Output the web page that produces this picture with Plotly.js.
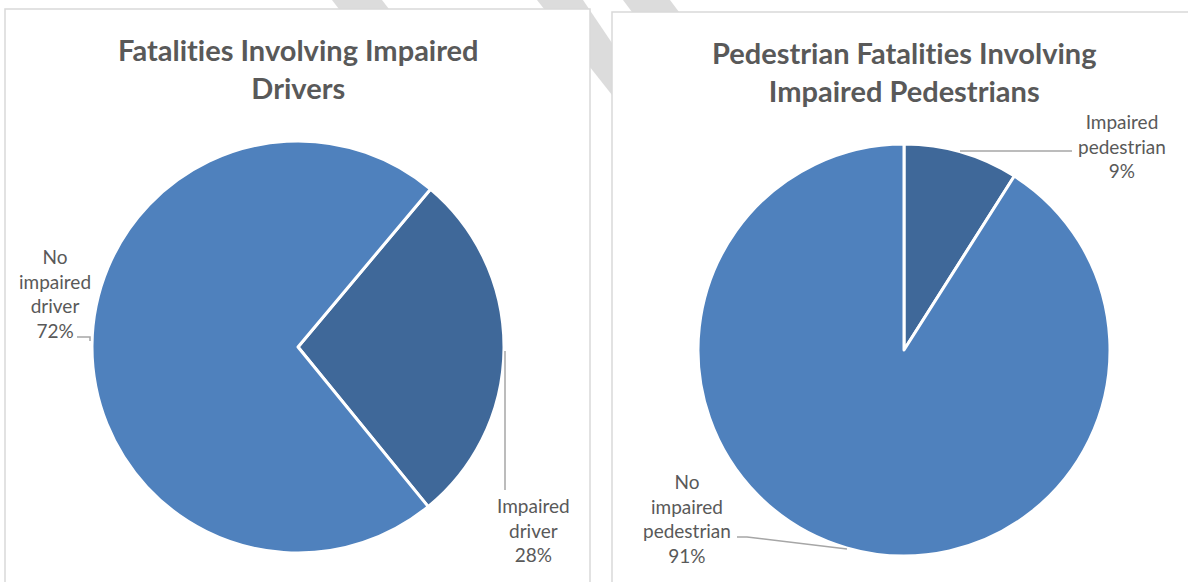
<!DOCTYPE html>
<html>
<head>
<meta charset="utf-8">
<script src="https://cdn.plot.ly/plotly-3.0.1.min.js"></script>
<style>html,body{margin:0;padding:0;background:#fff;}#chart{width:1188px;height:582px;}text{font-variant-ligatures:none;font-feature-settings:"liga" 0;}</style>
</head>
<body>
<div id="chart"></div>
<script>
// ---- data ----
var driverLabels = ["Impaired driver", "No impaired driver"];
var driverValues = [28, 72];
var pedLabels = ["Impaired pedestrian", "No impaired pedestrian"];
var pedValues = [9, 91];
var titleLeft = "Fatalities Involving Impaired<br>Drivers";
var titleRight = "Pedestrian Fatalities Involving<br>Impaired Pedestrians";

// ---- helpers ----
var W = 1188, H = 582;
function px(x) { return x / W; }
function py(y) { return 1 - y / H; }
function pathPx(pts, close) {
  var s = pts.map(function (p, i) { return (i ? "L" : "M") + px(p[0]) + "," + py(p[1]); }).join(" ");
  return close ? s + " Z" : s;
}
function pct(vals, i) {
  var t = vals.reduce(function (a, b) { return a + b; }, 0);
  return Math.round(vals[i] / t * 100) + "%";
}

var lightBlue = "#4F81BD", darkBlue = "#3F6899";
var labelColor = "#595959", lineColor = "#A6A6A6";
var fontFam = "Lato, 'Open Sans', sans-serif";

var traces = [
  {
    type: "pie", labels: driverLabels, values: driverValues, sort: false,
    direction: "clockwise", rotation: 40, textinfo: "none", hoverinfo: "none",
    marker: { colors: [darkBlue, lightBlue], line: { color: "#ffffff", width: 3 } },
    domain: { x: [px(92), px(504)], y: [py(553), py(141)] }, showlegend: false
  },
  {
    type: "pie", labels: pedLabels, values: pedValues, sort: false,
    direction: "clockwise", rotation: 0, textinfo: "none", hoverinfo: "none",
    marker: { colors: [darkBlue, lightBlue], line: { color: "#ffffff", width: 3 } },
    domain: { x: [px(698), px(1110)], y: [py(556), py(144)] }, showlegend: false
  }
];

var stripe = "#DCDCDC";
var shapes = [
  // watermark stripes (behind panels)
  { type: "path", xref: "paper", yref: "paper", layer: "below", line: { width: 0 }, fillcolor: stripe,
    path: pathPx([[332, 0], [382, 0], [405, 30], [355, 30]], true) },
  { type: "path", xref: "paper", yref: "paper", layer: "below", line: { width: 0 }, fillcolor: stripe,
    path: pathPx([[537, 0], [583, 0], [612, 43], [612, 95]], true) },
  { type: "path", xref: "paper", yref: "paper", layer: "below", line: { width: 0 }, fillcolor: stripe,
    path: pathPx([[623, 0], [670, 0], [685, 20], [638, 20]], true) },
  // panels
  { type: "rect", xref: "paper", yref: "paper", layer: "below", fillcolor: "#ffffff",
    line: { color: "#D9D9D9", width: 1.5 }, x0: px(5), x1: px(590), y0: py(590), y1: py(9) },
  { type: "rect", xref: "paper", yref: "paper", layer: "below", fillcolor: "#ffffff",
    line: { color: "#D9D9D9", width: 1.5 }, x0: px(612), x1: px(1195), y0: py(590), y1: py(12) },
  // leader lines
  { type: "path", xref: "paper", yref: "paper", line: { color: lineColor, width: 1.5 },
    path: pathPx([[77, 337], [90, 337], [90, 341]], false) },
  { type: "path", xref: "paper", yref: "paper", line: { color: lineColor, width: 1.5 },
    path: pathPx([[505, 351], [505, 490]], false) },
  { type: "path", xref: "paper", yref: "paper", line: { color: lineColor, width: 1.5 },
    path: pathPx([[960, 151], [1072, 151]], false) },
  { type: "path", xref: "paper", yref: "paper", line: { color: lineColor, width: 1.5 },
    path: pathPx([[737, 537], [747, 537], [847, 549]], false) }
];

function ann(text, x, y, size, bold) {
  return {
    xref: "paper", yref: "paper", x: px(x), y: py(y), xanchor: "center", yanchor: "middle",
    showarrow: false, align: "center", text: bold ? "<b>" + text + "</b>" : text,
    font: { family: fontFam, size: size, color: labelColor }
  };
}

var annotations = [
  ann(titleLeft, 298, 68, 29, true),
  ann(titleRight, 904, 71, 29, true),
  ann("No<br>impaired<br>driver<br>" + pct(driverValues, 1), 55, 293, 19, false),
  ann("Impaired<br>driver<br>" + pct(driverValues, 0), 533, 530, 19, false),
  ann("Impaired<br>pedestrian<br>" + pct(pedValues, 0), 1122, 146, 19, false),
  ann("No<br>impaired<br>pedestrian<br>" + pct(pedValues, 1), 687, 518, 19, false)
];

var layout = {
  width: W, height: H, margin: { l: 0, r: 0, t: 0, b: 0 },
  paper_bgcolor: "#ffffff", plot_bgcolor: "rgba(0,0,0,0)",
  showlegend: false, shapes: shapes, annotations: annotations
};

Plotly.newPlot("chart", traces, layout, { displayModeBar: false, staticPlot: true });
</script>
</body>
</html>
